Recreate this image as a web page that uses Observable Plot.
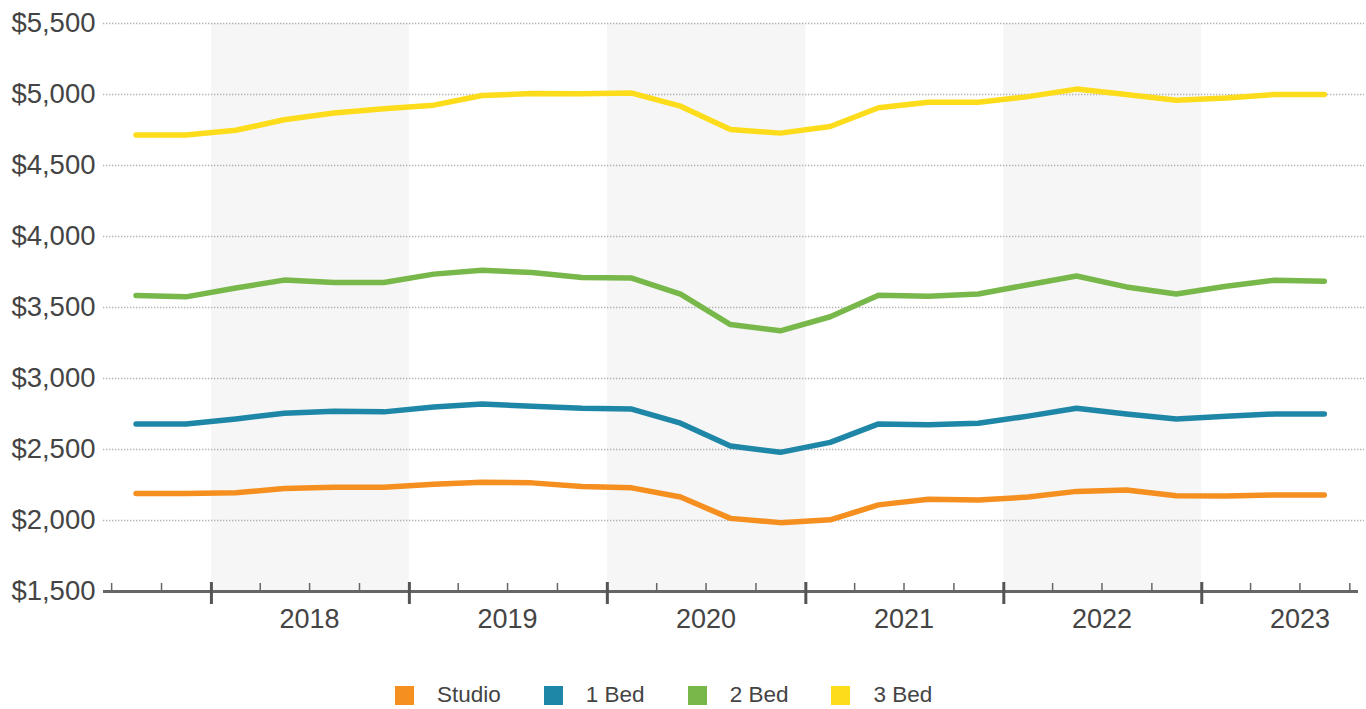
<!DOCTYPE html>
<html>
<head>
<meta charset="utf-8">
<script src="https://cdn.jsdelivr.net/npm/d3@7"></script>
<script src="https://cdn.jsdelivr.net/npm/@observablehq/plot@0.6"></script>
<style>
  body { margin: 0; background: #fff; overflow: hidden; font-family: "Liberation Sans", Arial, sans-serif; }
  #legend { position: absolute; left: 395px; top: 682px; display: flex; align-items: center; font-size: 22.5px; color: #444; }
  .item { display: flex; align-items: center; margin-right: 43px; }
  .sw { width: 19px; height: 19px; margin-right: 23px; }
</style>
</head>
<body>
<div id="chart"></div>
<div id="legend"></div>
<script>
// Quarterly observations (mid-quarter)
const dates = [
  "2017-08-15","2017-11-15",
  "2018-02-15","2018-05-15","2018-08-15","2018-11-15",
  "2019-02-15","2019-05-15","2019-08-15","2019-11-15",
  "2020-02-15","2020-05-15","2020-08-15","2020-11-15",
  "2021-02-15","2021-05-15","2021-08-15","2021-11-15",
  "2022-02-15","2022-05-15","2022-08-15","2022-11-15",
  "2023-02-15","2023-05-15","2023-08-15"
];
const studio   = [2190, 2190, 2195, 2225, 2235, 2235, 2255, 2270, 2265, 2240, 2230, 2165, 2015, 1985, 2005, 2110, 2150, 2145, 2165, 2205, 2215, 2175, 2173, 2180, 2180];
const oneBed   = [2680, 2680, 2715, 2755, 2770, 2765, 2800, 2820, 2805, 2790, 2785, 2685, 2525, 2480, 2550, 2680, 2675, 2685, 2735, 2790, 2750, 2715, 2735, 2750, 2750];
const twoBed   = [3585, 3575, 3637, 3693, 3676, 3676, 3735, 3763, 3746, 3711, 3707, 3594, 3380, 3336, 3435, 3587, 3580, 3595, 3660, 3722, 3645, 3595, 3650, 3692, 3685];
const threeBed = [4715, 4715, 4748, 4822, 4870, 4900, 4925, 4993, 5007, 5005, 5010, 4918, 4754, 4728, 4775, 4907, 4945, 4945, 4985, 5038, 5000, 4960, 4975, 5000, 5000];

const seriesNames  = ["Studio", "1 Bed", "2 Bed", "3 Bed"];
const seriesColors = ["#F58F1F", "#1E86A6", "#78B84B", "#FDDC1C"];
const seriesValues = [studio, oneBed, twoBed, threeBed];

const yTicks = [1500, 2000, 2500, 3000, 3500, 4000, 4500, 5000, 5500];
const yearLabels = [2018, 2019, 2020, 2021, 2022, 2023];
const shadedYears = [2018, 2020, 2022];
const domainStart = "2017-06-16";
const domainEnd = "2023-10-17";

// Build table
const rows = [];
seriesNames.forEach((s, i) => {
  seriesValues[i].forEach((v, j) => rows.push({series: s, date: new Date(dates[j]), value: v}));
});
const bands = shadedYears.map(y => ({start: new Date(Date.UTC(y, 0, 1)), end: new Date(Date.UTC(y + 1, 0, 1))}));
const yearStarts = yearLabels.map(y => new Date(Date.UTC(y, 0, 1)));
const quarterTicks = [];
for (let y = 2017; y <= 2023; y++) for (let m of [3, 6, 9]) {
  const d = new Date(Date.UTC(y, m, 1));
  if (d >= new Date(domainStart) && d <= new Date(domainEnd)) quarterTicks.push(d);
}
const yearMids = yearLabels.map(y => new Date(Date.UTC(y, 6, 1)));
const fmt = d3.format(",");
const font = '"Liberation Sans", Arial, sans-serif';

const chart = Plot.plot({
  width: 1366,
  height: 650,
  marginLeft: 103,
  marginRight: 8,
  marginTop: 23,
  marginBottom: 59,
  style: {fontFamily: font, background: "#fff", color: "#444", overflow: "visible"},
  x: {type: "utc", domain: [new Date(domainStart), new Date(domainEnd)], label: null},
  y: {domain: [1500, 5500], label: null},
  color: {domain: seriesNames, range: seriesColors},
  marks: [
    Plot.rect(bands, {x1: "start", x2: "end", y1: 1500, y2: 5500, fill: "#f6f6f6"}),
    Plot.gridY(yTicks.filter(t => t > 1500), {stroke: "#b0b0b0", strokeOpacity: 1, strokeWidth: 1.3, strokeDasharray: "1.3,1.7", insetRight: -6}),
    Plot.axisY(yTicks, {tickSize: 0, tickPadding: 8, fontSize: 27.5, fill: "#444", tickFormat: d => "$" + fmt(d), label: null}),
    Plot.ruleY([1500], {stroke: "#666", strokeWidth: 3}),
    Plot.axisX(quarterTicks, {tickSize: 8, dy: -8, text: null, label: null, stroke: "#666", strokeWidth: 1.5}),
    Plot.axisX(yearStarts, {tickSize: 22, dy: -9, text: null, label: null, stroke: "#555", strokeWidth: 3}),
    Plot.axisX(yearMids, {tickSize: 0, tickPadding: 17, fontSize: 27, fill: "#444", label: null, tickFormat: d => String(d.getUTCFullYear())}),
    Plot.line(rows, {x: "date", y: "value", z: "series", stroke: "series", strokeWidth: 5.5, strokeLinecap: "round", strokeLinejoin: "round"})
  ]
});
document.getElementById("chart").appendChild(chart);

const legend = document.getElementById("legend");
seriesNames.forEach((s, i) => {
  const item = document.createElement("div");
  item.className = "item";
  const sw = document.createElement("div");
  sw.className = "sw";
  sw.style.background = seriesColors[i];
  const label = document.createElement("span");
  label.textContent = s;
  item.appendChild(sw);
  item.appendChild(label);
  legend.appendChild(item);
});
</script>
</body>
</html>
